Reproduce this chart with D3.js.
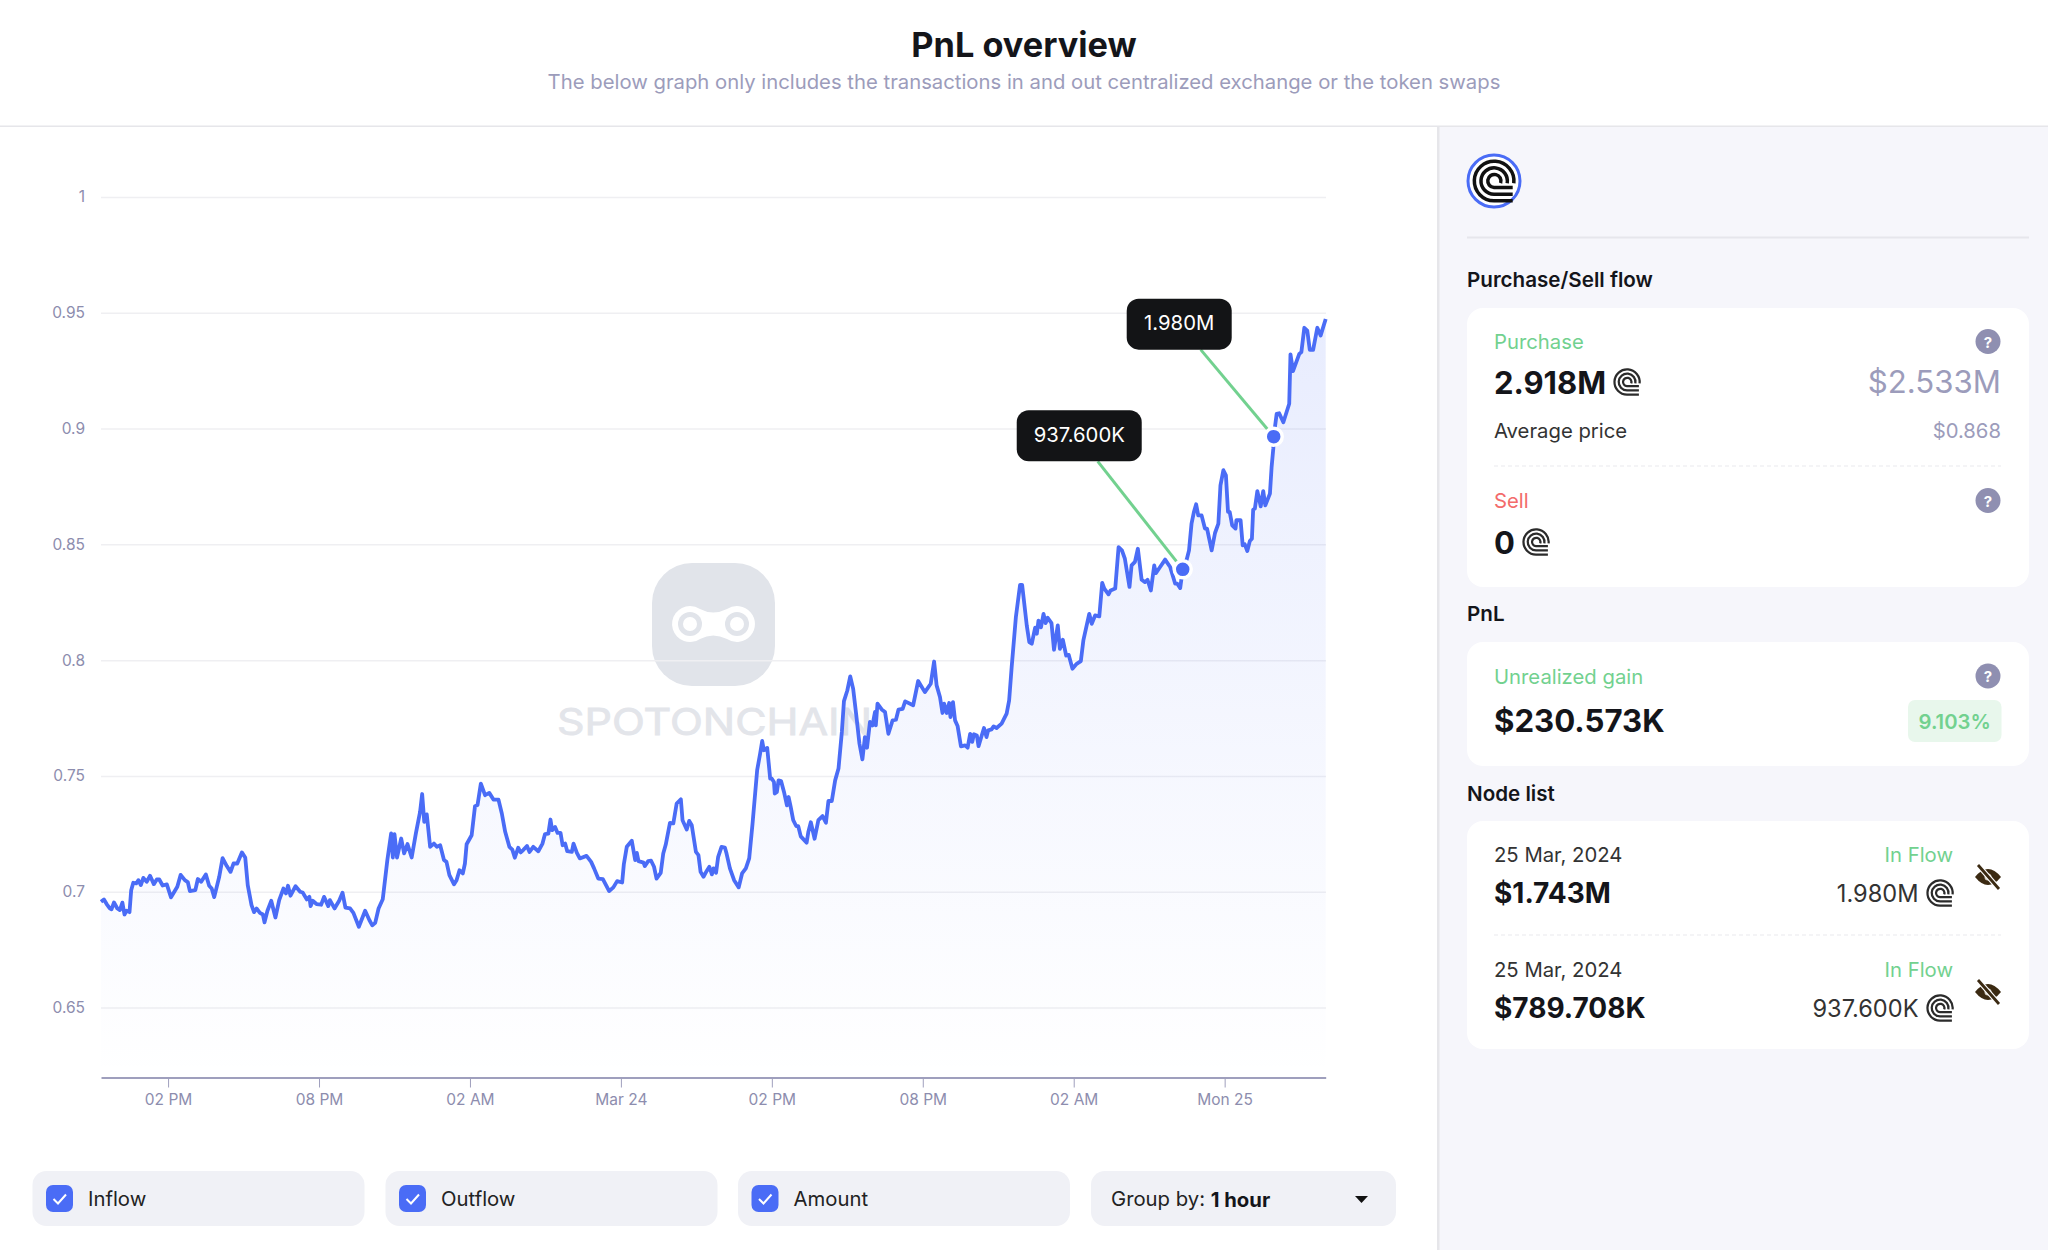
<!DOCTYPE html>
<html><head><meta charset="utf-8">
<script src="https://cdn.jsdelivr.net/npm/d3@7/dist/d3.min.js"></script>
<style>html,body{margin:0;padding:0;background:#fff}svg{display:block;font-family:Inter,"Noto Sans",sans-serif}</style>
</head><body><div id="c"></div>
<script>
// minutes after the first sample (Mar 23, about 11:20)
const minutes = [0,7,13.5,21,25,31,39,45,51,56,61,68,72,77,84,89,95,101,109,117,126,133,139,147,157,167,182,190,200,207,212,225,231,239,250,258,264,270,282,290,300,309,316,325,336,344,350,359,365,371,379,386,390,397,406,416,425,435,441,446,452,464,475,481,491,497,500,505,514,525,532,542,546,557,568,576,583,594,602,615,630,640,647,654,662,672,683,692,696,700,706,716,723,731,741,751,761,766,771,777,785,
794,801,809,818,824,831,842,848,855,863,868,872,884,892,898,906,916,926,936,948,956,964,974,981,987,995,1001,1007,1016,1022,1031,1043,1053,1059,1067,1072,1076,1083,1089,1096,1101,1107,1112,1123,1127,1135,1142,1158,1169,1176,1186,1197,1212,1222,1231,1243,1247,1254,1266,1274,1278,1282,1294,1297,1305,1312,1319,1325,1335,1341,1347,1357,1365,1373,1383,1387,1397,1403,1409,1419,1425,1430,1437,1445,1451,1457,1461,1467,1472,1480,1488,1492,1500,1510,1521,1529,1538,1546,1554,1565,1572,1577,1581,1589,1596,
1600,1605,1607,1612,1616,1622,1629,1636,1640,1645,1651,1658,1663,1669,1683,1687,1693,1702,1711,1721,1729,1735,1743,1751,
1759,1767,1772,1780,1787,1794,1801,1809,1816,1822,1827,1834,1840,1846,1848,1852,1862,1870,1878,1888,1896,1902,1912,1918,1937,1949,1965,1979,1987,1993,2001,2007,2011,2017,2023,2026,2032,2037,2043,2051,2061,2067,2073,2078,2082,2089,2093,2106,2112,2116,2124,2129,2136,2148,2160,2166,2172,2182,2192,2197,2208,2214,2220,2228,2232,2236,2242,2248,2253,2258,2267,2273,2282,2287,2294,2302,2308,2317,2327,2337,2343,2357,
2363,2371,2381,2388,2393,2403,2408,2419,2427,2435,2442,2453,2458,2466,2473,2482,2490,2496,2504,2512,2516,2526,2538,2550,2562,2567,2574,2580,2590,2595,
2601,2607,2612,2617,2625,2633,2638,2649,2657,2665,2670,2677,2683,2688,2692,2698,2706,2708,2718,2723,2728,2734,2740,2745,2748,2752,2758,2766,2772,2777,2788,2792,2796,
2797,2804,2810,2820,2834,2837,2843,2858,2863,2870,2877,2883,2891,2901,2909,2921];
const prices = [.6957,.6967,.6947,.6928,.6924,.6954,.6928,.6921,.6953,.6902,.6918,.6912,.7007,.7039,.7036,.7050,.7029,.7060,.7043,.7069,.7033,.7053,.7053,.7027,.7032,.6976,.7022,.7073,.7050,.7042,.7003,.7007,.7055,.7043,.7075,.7026,.7014,.6977,.7065,.7145,.7111,.7086,.7122,.7122,.7170,.7148,.7029,.6942,.6912,.6928,.6909,.6902,.6868,.6918,.6961,.6889,.6964,.7014,.6993,.7026,.6983,.7024,.7000,.6997,.6967,.6978,.6938,.6961,.6947,.6944,.6978,.6938,.6964,.6928,.6961,.6996,.6932,.6928,.6909,.6849,.6918,.6878,.6855,.6866,.6928,.6968,.7137,.7252,.7148,.7249,.7148,.7230,.7166,.7206,.7148,.7252,.7345,.7422,.7302,.7334,.7194,
.7208,.7194,.7201,.7137,.7129,.7072,.7032,.7050,.7093,.7079,.7122,.7205,.7244,.7369,.7374,.7467,.7417,.7427,.7398,.7398,.7338,.7259,.7194,.7182,.7147,.7190,.7170,.7180,.7198,.7172,.7194,.7175,.7208,.7249,.7251,.7312,.7266,.7280,.7254,.7254,.7201,.7208,.7175,.7172,.7208,.7168,.7144,.7155,.7129,.7101,.7057,.7055,.7003,.7019,.7046,.7040,.7119,.7194,.7220,.7137,.7168,.7132,.7126,.7111,.7132,.7134,.7108,.7057,.7082,.7165,.7204,.7297,.7295,.7381,.7399,.7309,.7269,.7306,.7287,.7172,.7158,.7086,.7065,.7091,.7108,.7075,.7101,.7082,.7151,.7194,.7191,.7165,.7101,.7050,.7019,.7079,.7101,.7144,.7295,.7525,.7596,.7651,.7611,.7621,.7489,
.7488,.7474,.7424,.7431,.7481,.7478,.7431,.7373,.7409,.7366,.7309,.7284,.7283,.7239,.7212,.7258,.7300,.7229,.7309,.7327,.7298,.7392,.7392,.7481,
.7532,.7690,.7823,.7869,.7930,.7876,.7769,.7639,.7572,.7668,.7622,.7733,.7718,.7776,.7718,.7812,.7787,.7776,.7682,.7740,.7743,.7786,.7790,.7822,.7805,.7910,.7862,.7898,.7994,.7891,.7841,.7772,.7812,.7772,.7815,.7754,.7819,.7740,.7716,.7628,.7632,.7622,.7682,.7647,.7680,.7675,.7629,.7707,.7668,.7697,.7701,.7714,.7707,.7726,.7769,.7826,.7970,.8185,.8325,.8325,.8150,.8078,.8071,.8140,.8114,.8171,.8142,.8200,.8160,.8183,.8160,.8045,.8150,.8049,.8088,.8020,.8023,.7963,.7984,.7996,.8085,.8200,
.8157,.8193,.8189,.8334,.8309,.8284,.8301,.8309,.8488,.8474,.8438,.8316,.8409,.8424,.8481,.8347,.8337,.8347,.8301,.8409,.8376,.8402,.8434,.8402,.8330,.8330,.8311,.8392,.8438,.8474,
.8589,.8642,.8673,.8625,.8625,.8568,.8568,.8474,.8549,.8589,.8755,.8820,.8798,.8640,.8640,.8582,.8568,.8604,.8604,.8496,.8500,.8471,.8514,.8524,.8650,.8654,.8730,.8664,.8730,.8668,.8719,.8834,.8913,
.8965,.9063,.9066,.9027,.9107,.9320,.9248,.9322,.9330,.9435,.9423,.9340,.9340,.9435,.9402,.9473];

const yTicks = [1,.95,.9,.85,.8,.75,.7,.65];
const xTickMinutes = [160,520,880,1240,1600,1960,2320,2680];
const xTickLabels = ["02 PM","08 PM","02 AM","Mar 24","02 PM","08 PM","02 AM","Mon 25"];
const nodeMinutes = [2580,2797];
const nodePrices = [.8392,.8965];
const nodeLabels = ["937.600K","1.980M"];
const nodeLabelBoxes = [{dx:-166,dy:-159,w:125,h:51},{dx:-147,dy:-138,w:105,h:51}];
const legendLabels = ["Inflow","Outflow","Amount"];

const INK="#14151a", MUTED="#9c9cbb", GREEN="#72d18f", RED="#f36b6b", BLUE="#4a6cf6";
const svg=d3.select("#c").append("svg").attr("width",2048).attr("height",1250);
const defs=svg.append("defs");
const grad=defs.append("linearGradient").attr("id","ag").attr("gradientUnits","userSpaceOnUse").attr("x1",0).attr("x2",0).attr("y1",300).attr("y2",1078);
grad.append("stop").attr("offset",0).attr("stop-color",BLUE).attr("stop-opacity",.13);
grad.append("stop").attr("offset",1).attr("stop-color",BLUE).attr("stop-opacity",0);

function T(g,x,y,s,o={}){return g.append("text").attr("x",x).attr("y",y).attr("dominant-baseline","central")
 .attr("text-anchor",o.a||"start").attr("font-size",o.s||20.3).attr("font-weight",o.w||400).attr("fill",o.c||INK).text(s);}

// page frame
svg.append("rect").attr("width",2048).attr("height",1250).attr("fill","#fff");
svg.append("rect").attr("x",1438).attr("y",126).attr("width",610).attr("height",1124).attr("fill","#f6f6fb");
svg.append("rect").attr("x",1437).attr("y",126).attr("width",2.5).attr("height",1124).attr("fill","#e6e6ea");
svg.append("rect").attr("x",0).attr("y",125.5).attr("width",2048).attr("height",1.5).attr("fill","#e6e6ea");
T(svg,1024,44,"PnL overview",{a:"middle",s:34.3,w:700});
T(svg,1024,81.5,"The below graph only includes the transactions in and out centralized exchange or the token swaps",{a:"middle",s:20.3,c:MUTED});

// chart
const x=d3.scaleLinear().domain([0,2921]).range([101,1325.7]);
const y=d3.scaleLinear().domain([.6196,1]).range([1078,196.9]);
const data=minutes.map((m,i)=>({m,p:prices[i]}));
const chart=svg.append("g");

// watermark, behind everything in the plot
const wm=chart.append("g");
wm.append("rect").attr("x",652).attr("y",563).attr("width",123).attr("height",123).attr("rx",40).attr("fill","#e1e4ea");
wm.append("path").attr("fill","#fff").attr("d","M690 606a18 18 0 0 1 10 3q13 7 27 0a18 18 0 1 1 0 30q-14-7-27 0a18 18 0 1 1-10-33z");
[690,737].forEach(c=>{wm.append("circle").attr("cx",c).attr("cy",624).attr("r",12).attr("fill","#e1e4ea");
 wm.append("circle").attr("cx",c).attr("cy",624).attr("r",7).attr("fill","#fff");});
wm.append("text").attr("x",557).attr("y",721.5).attr("dominant-baseline","central").attr("font-size",37).attr("fill","#e3e5ea")
 .attr("stroke","#e3e5ea").attr("stroke-width",.8)
 .attr("textLength",315).attr("lengthAdjust","spacingAndGlyphs").text("SPOTONCHAIN");

const gridG=chart.append("g").attr("transform","translate(101,0)")
 .call(d3.axisLeft(y).tickValues(yTicks).tickSize(-1225).tickPadding(16).tickFormat(d3.format("~g")));
gridG.select(".domain").remove();
gridG.selectAll("line").attr("stroke","#efeff2").attr("stroke-width",1.5);
gridG.selectAll("text").attr("font-family","Inter").attr("font-size",15.5).attr("fill","#8d8dae");

chart.append("path").datum(data).attr("fill","url(#ag)")
 .attr("d",d3.area().x(d=>x(d.m)).y0(y.range()[0]).y1(d=>y(d.p)));
chart.append("path").datum(data).attr("fill","none").attr("stroke",BLUE).attr("stroke-width",3.8).attr("stroke-linejoin","round")
 .attr("d",d3.line().x(d=>x(d.m)).y(d=>y(d.p)));

const xG=chart.append("g").attr("transform","translate(0,1077.5)")
 .call(d3.axisBottom(x).tickValues(xTickMinutes).tickSizeInner(10).tickSizeOuter(0).tickPadding(6).tickFormat((d,i)=>xTickLabels[i]));
xG.select(".domain").attr("stroke","#9f9fbd").attr("stroke-width",2);
xG.selectAll("line").attr("stroke","#9f9fbd").attr("stroke-width",1);
xG.selectAll("text").attr("font-family","Inter").attr("font-size",15.5).attr("fill","#8d8dae");

// nodes
nodeMinutes.forEach((m,i)=>{
 const px=x(m),py=y(nodePrices[i]),b=nodeLabelBoxes[i],g=chart.append("g");
 g.append("line").attr("x1",px-(i?73:85)).attr("y1",py+b.dy+b.h).attr("x2",px).attr("y2",py).attr("stroke",GREEN).attr("stroke-width",3);
 g.append("rect").attr("x",px+b.dx).attr("y",py+b.dy).attr("width",b.w).attr("height",b.h).attr("rx",12).attr("fill","#131416");
 T(g,px+b.dx+b.w/2,py+b.dy+b.h/2-1.5,nodeLabels[i],{a:"middle",c:"#fff"});
 g.append("circle").attr("cx",px).attr("cy",py).attr("r",8.5).attr("fill",BLUE).attr("stroke","#fff").attr("stroke-width",3.5);
});

// controls
[32.5,385.5,738].forEach((bx,i)=>{
 const g=svg.append("g");
 g.append("rect").attr("x",bx).attr("y",1171).attr("width",332).attr("height",55).attr("rx",14).attr("fill","#f0f1f6");
 g.append("rect").attr("x",bx+13.5).attr("y",1185).attr("width",27).attr("height",27).attr("rx",7).attr("fill",BLUE);
 g.append("path").attr("d",`M${bx+21} 1199l4.5 4.5 8-9`).attr("fill","none").attr("stroke","#fff").attr("stroke-width",2);
 T(g,bx+55.5,1198.5,legendLabels[i],{c:"#222"});
});
svg.append("rect").attr("x",1091).attr("y",1171).attr("width",305).attr("height",55).attr("rx",14).attr("fill","#f0f1f6");
const gb=T(svg,1111,1198.5,"Group by: ",{c:"#222"});
gb.append("tspan").attr("font-weight",700).attr("fill",INK).text("1 hour");
svg.append("path").attr("d","M1355 1196h13l-6.5 7z").attr("fill","#111");

// side panel
function token(g,cx,cy,r,col){
 const t=g.append("g").attr("transform",`translate(${cx},${cy})`);
 t.append("circle").attr("r",r).attr("fill","#fff");
 const rs=[.9,.6,.3], sw=r*.16;
 rs.forEach((R,i)=>{const a=R*r, end=Math.max(Math.sqrt(r*r-a*a)+r*.25,a);
  t.append("path").attr("fill","none").attr("stroke",col||"#2b2b2b").attr("stroke-width",sw)
   .attr("d",`M${a} ${r*.1}A${a} ${a} 0 1 0 0 ${a}L${Math.min(end,r*.85)} ${a}`);
 });
 return t;
}
function help(g,cx,cy){
 g.append("circle").attr("cx",cx).attr("cy",cy).attr("r",12.5).attr("fill","#8f8fb1");
 T(g,cx,cy+.5,"?",{a:"middle",s:15,w:700,c:"#fff"});
}
function eye(g,cx,cy){
 const t=g.append("g").attr("transform",`translate(${cx},${cy})`);
 t.append("path").attr("d","M-13 0Q0-16 13 0Q0 16-13 0z").attr("fill","#3b2a12");
 t.append("circle").attr("r",3.5).attr("fill","#cfc8bb");
 t.append("line").attr("x1",-10).attr("y1",-12).attr("x2",11).attr("y2",12).attr("stroke","#fff").attr("stroke-width",5);
 t.append("line").attr("x1",-10).attr("y1",-12).attr("x2",11).attr("y2",12).attr("stroke","#3b2a12").attr("stroke-width",2.8);
}
const P=svg.append("g");
P.append("circle").attr("cx",1494).attr("cy",181).attr("r",26).attr("fill","#fff").attr("stroke",BLUE).attr("stroke-width",3);
token(P,1494,181,22,"#111");
P.append("rect").attr("x",1467).attr("y",236.5).attr("width",562).attr("height",2).attr("fill","#e6e6ec");
T(P,1467,279,"Purchase/Sell flow",{s:20.6,w:600});
const card=(y0,y1)=>P.append("rect").attr("x",1467).attr("y",y0).attr("width",562).attr("height",y1-y0).attr("rx",16).attr("fill","#fff");
const dash=(yy)=>P.append("line").attr("x1",1494).attr("x2",2001).attr("y1",yy).attr("y2",yy).attr("stroke","#e9e9ee").attr("stroke-width",1.2).attr("stroke-dasharray","4 3");
card(308,587);
T(P,1494,341,"Purchase",{c:GREEN}); help(P,1988,341.5);
T(P,1494,382,"2.918M",{s:31,w:700}); token(P,1627,382,14);
T(P,2001,382,"$2.533M",{a:"end",s:31.2,c:MUTED});
T(P,1494,430,"Average price",{c:"#333"}); T(P,2001,430,"$0.868",{a:"end",c:MUTED});
dash(466);
T(P,1494,500.5,"Sell",{c:RED}); help(P,1988,500.5);
T(P,1494,542,"0",{s:31,w:700}); token(P,1536,542,14);
T(P,1467,613,"PnL",{s:20.6,w:600});
card(642,766);
T(P,1494,676,"Unrealized gain",{c:GREEN}); help(P,1988,676);
T(P,1494,721,"$230.573K",{s:31.2,w:700});
P.append("rect").attr("x",1908).attr("y",700).attr("width",93.5).attr("height",42).attr("rx",7).attr("fill","#e8f7ec");
T(P,1954.7,721,"9.103%",{a:"middle",w:600,c:GREEN});
T(P,1467,793,"Node list",{s:20.6,w:600});
card(821,1049);
[[854.5,893,877,"$1.743M","1.980M"],[969.5,1008,992,"$789.708K","937.600K"]].forEach(r=>{
 T(P,1494,r[0],"25 Mar, 2024",{c:"#333"});
 T(P,1953,r[0],"In Flow",{a:"end",c:GREEN});
 T(P,1494,r[1],r[3],{s:28,w:700});
 T(P,1918.5,r[1],r[4],{a:"end",s:23.6,c:"#333"});
 token(P,1940,r[1],14);
 eye(P,1988,r[2]);
});
dash(935);
</script></body></html>
